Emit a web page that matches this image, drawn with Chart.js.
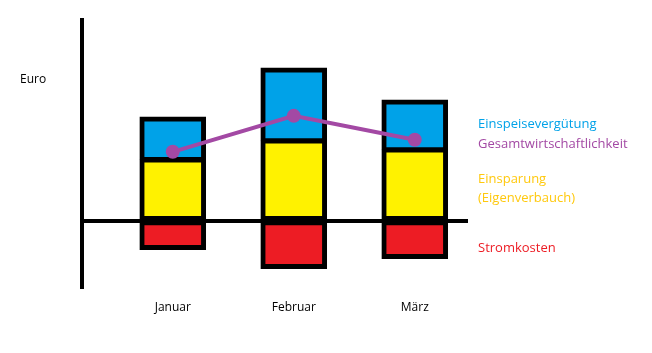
<!DOCTYPE html>
<html>
<head>
<meta charset="utf-8">
<script src="https://cdn.jsdelivr.net/npm/chart.js@4/dist/chart.umd.min.js"></script>
<style>
  html, body { margin: 0; padding: 0; background: #fff; }
  canvas { display: block; }
</style>
</head>
<body>
<canvas id="chart" width="652" height="353"></canvas>
<script>
// Werte (willkürliche Euro-Einheiten)
const months = ['Januar', 'Februar', 'März'];
const einsparung = [6.1, 8.0, 7.1];
const einspeisung = [4.3, 7.3, 5.0];
const stromkosten = [-2.9, -4.8, -3.8];
const gesamt = [6.9, 10.5, 8.1];
const yAxisLabel = 'Euro';

// Beschriftungen rechts neben den Balken (je Datensatz, ggf. mehrzeilig)
const seriesLabels = {
    einsparung: ['Einsparung', '(Eigenverbauch)'],
    einspeisung: ['Einspeisevergütung'],
    stromkosten: ['Stromkosten'],
    gesamt: ['Gesamtwirtschaftlichkeit']
};

const FONT = '"Open Sans", "Noto Sans", sans-serif';

function points(values) {
    return months.map((m, i) => ({ x: i + 1, y: values[i] }));
}

// Zeichnet die Reihennamen neben dem letzten Element jeder Reihe
const endLabels = {
    id: 'endLabels',
    afterDatasetsDraw(chart) {
        const ctx = chart.ctx;
        const x = chart.chartArea.right + 10;
        ctx.save();
        ctx.font = '13px ' + FONT;
        ctx.textAlign = 'left';
        ctx.textBaseline = 'middle';
        chart.data.datasets.forEach((ds, i) => {
            const meta = chart.getDatasetMeta(i);
            const el = meta.data[meta.data.length - 1];
            if (!el) return;
            let y = ds.type === 'line' ? el.y : (el.y + el.base) / 2;
            y += ds.labelShift || 0;
            const lines = ds.endLabel;
            const lh = 19;
            ctx.fillStyle = ds.labelColor;
            lines.forEach((line, j) => {
                ctx.fillText(line, x, y + (j - (lines.length - 1) / 2) * lh);
            });
        });
        // Achsenbeschriftung "Euro"
        ctx.fillStyle = '#000';
        ctx.font = '12px ' + FONT;
        ctx.fillText(yAxisLabel, 20, 80);
        ctx.restore();
    }
};

// dicker Rahmen außen, dünner an den Stoßkanten
function borderFor(c) {
    const neg = c.raw && c.raw.y < 0;
    return neg ? { top: 3, left: 5, right: 5, bottom: 5 } : { top: 3, left: 5, right: 5, bottom: 3 };
}

const barStyle = {
    type: 'bar',
    borderColor: '#000',
    borderSkipped: false,
    barThickness: 66,
    stack: 'bars',
    order: 1
};

new Chart(document.getElementById('chart'), {
    data: {
        datasets: [
            {
                ...barStyle,
                label: 'Einsparung (Eigenverbauch)',
                endLabel: seriesLabels.einsparung,
                labelColor: '#ffc90e',
                labelShift: 5,
                data: points(einsparung),
                backgroundColor: '#fff200',
                borderWidth: borderFor
            },
            {
                ...barStyle,
                label: 'Einspeisevergütung',
                endLabel: seriesLabels.einspeisung,
                labelColor: '#00a2e8',
                labelShift: -1,
                data: points(einspeisung),
                backgroundColor: '#00a2e8',
                borderWidth: { top: 5, left: 5, right: 5, bottom: 3 }
            },
            {
                ...barStyle,
                label: 'Stromkosten',
                endLabel: seriesLabels.stromkosten,
                labelColor: '#ed1c24',
                labelShift: 8,
                data: points(stromkosten),
                backgroundColor: '#ed1c24',
                borderWidth: borderFor
            },
            {
                type: 'line',
                label: 'Gesamtwirtschaftlichkeit',
                endLabel: seriesLabels.gesamt,
                labelColor: '#a349a4',
                labelShift: 4,
                data: points(gesamt),
                borderColor: '#a349a4',
                backgroundColor: '#a349a4',
                borderWidth: 4,
                pointRadius: 7,
                pointBorderWidth: 0,
                stack: 'line',
                order: 0
            }
        ]
    },
    options: {
        responsive: false,
        animation: false,
        layout: { padding: { left: 82, right: 184, top: 20, bottom: 24 } },
        plugins: {
            legend: { display: false },
            tooltip: { enabled: false }
        },
        scales: {
            x: {
                type: 'linear',
                stacked: true,
                offset: false,
                min: 0.25,
                max: 3.44,
                afterBuildTicks: scale => { scale.ticks = months.map((m, i) => ({ value: i + 1 })); },
                grid: { display: false, drawTicks: false, offset: false },
                border: { display: false },
                ticks: {
                    padding: 14,
                    color: '#000',
                    font: { family: FONT, size: 12 },
                    callback: v => months[v - 1] || ''
                }
            },
            y: {
                stacked: true,
                min: -6.6,
                max: 20.1,
                afterBuildTicks: scale => { scale.ticks = [{ value: 0 }]; },
                grid: {
                    drawTicks: false,
                    color: c => c.tick && c.tick.value === 0 ? '#000' : 'transparent',
                    lineWidth: 4
                },
                border: { display: true, color: '#000', width: 4 },
                ticks: { display: false }
            }
        }
    },
    plugins: [endLabels]
});
</script>
</body>
</html>
